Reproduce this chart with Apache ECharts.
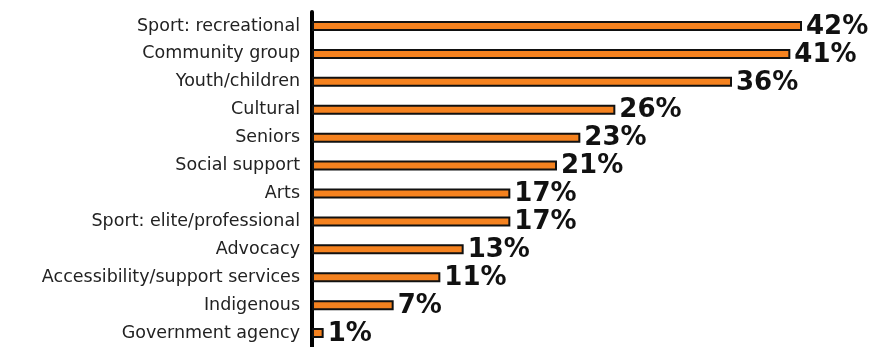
<!DOCTYPE html>
<html>
<head>
<meta charset="utf-8">
<script src="https://cdn.jsdelivr.net/npm/echarts@6/dist/echarts.min.js"></script>
<style>html,body{margin:0;padding:0;background:#fff}#c{width:872px;height:347px}</style>
</head>
<body>
<div id="c"></div>
<script>
const categories = ["Sport: recreational","Community group","Youth/children","Cultural","Seniors","Social support","Arts","Sport: elite/professional","Advocacy","Accessibility/support services","Indigenous","Government agency"];
const values = [42,41,36,26,23,21,17,17,13,11,7,1];

const chart = echarts.init(document.getElementById('c'), null, {renderer:'canvas'});
chart.setOption({
  animation:false,
  grid:{left:312, top:12, width:561, height:336, containLabel:false},
  xAxis:{type:'value', min:0, max:48, show:false},
  yAxis:{type:'category', data:categories, inverse:true,
    axisLine:{show:true, lineStyle:{color:'#000', width:4}},
    axisTick:{show:false},
    axisLabel:{color:'#222', fontFamily:'DejaVu Sans', fontSize:17.5, margin:12}
  },
  series:[{
    type:'bar', data:values, barWidth:10,
    itemStyle:{color:'#F5821F', borderColor:'#111', borderWidth:2},
    label:{show:true, position:'right', distance:4, formatter:'{c}%',
      fontFamily:'DejaVu Sans', fontWeight:'bold', fontSize:26, color:'#111', offset:[0,1]}
  }]
});
</script>
</body>
</html>
